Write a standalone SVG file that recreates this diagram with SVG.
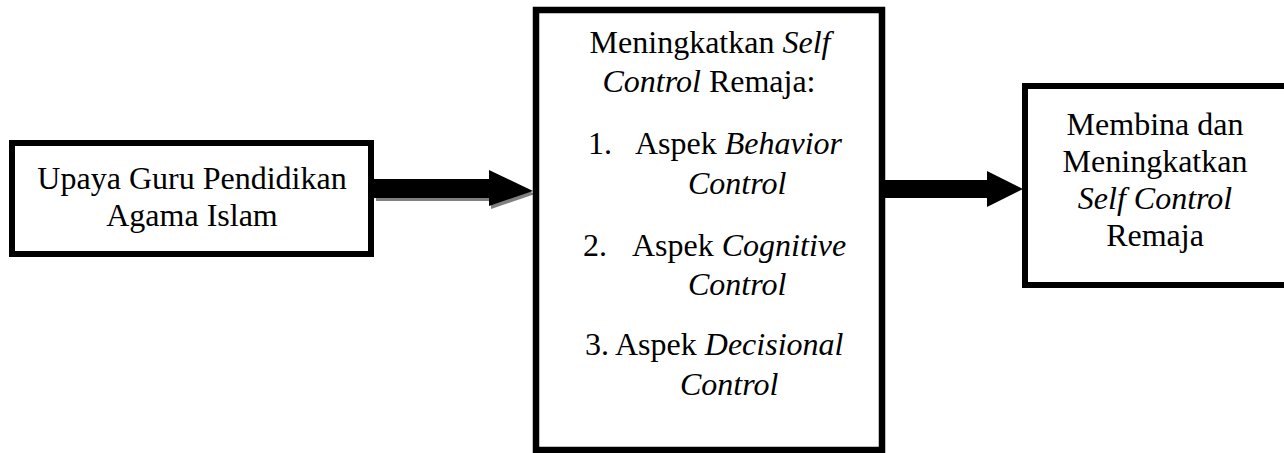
<svg xmlns="http://www.w3.org/2000/svg" width="1284" height="453" viewBox="0 0 1284 453">
<style>
.box{fill:#fff;stroke:#000;stroke-width:6}
.t{font-size:32px;fill:#000}
.c{text-anchor:middle}
.i{font-style:italic}
</style>
<rect width="1284" height="453" fill="#fff"/>
<g id="connectors">
  <polygon points="376,182 491,182 491,173 535,194 491,209 491,201 376,201" fill="#808080"/>
  <polygon points="374,179 489,179 489,170 533,191 489,206 489,198 374,198" fill="#000"/>
  <polygon points="885,180 987,180 987,171 1023,189 987,207 987,198 885,198" fill="#000"/>
</g>
<g font-family="'Liberation Serif', Tinos, 'Times New Roman', 'DejaVu Serif', serif">
<g id="node-upaya">
  <rect class="box" x="12" y="143" width="359" height="111"/>
  <text class="t c" x="192" y="189">Upaya Guru Pendidikan</text>
  <text class="t c" x="192" y="226">Agama Islam</text>
</g>
<g id="node-meningkatkan">
  <rect class="box" x="536" y="10" width="346" height="440" style="stroke-width:6.5"/>
  <text class="t c" x="710" y="53">Meningkatkan <tspan class="i">Self</tspan></text>
  <text class="t c" x="709" y="92"><tspan class="i">Control</tspan> Remaja:</text>
  <text class="t" x="588" y="154">1.</text>
  <text class="t" x="635" y="154">Aspek <tspan class="i">Behavior</tspan></text>
  <text class="t i" x="688" y="194">Control</text>
  <text class="t" x="583" y="256">2.</text>
  <text class="t" x="632" y="256">Aspek <tspan class="i">Cognitive</tspan></text>
  <text class="t i" x="688" y="295">Control</text>
  <text class="t" x="585" y="355">3.</text>
  <text class="t" x="615" y="355">Aspek <tspan class="i">Decisional</tspan></text>
  <text class="t i" x="680" y="395">Control</text>
</g>
<g id="node-membina">
  <rect class="box" x="1025" y="86" width="262" height="199"/>
  <text class="t c" x="1155" y="135">Membina dan</text>
  <text class="t c" x="1155" y="172">Meningkatkan</text>
  <text class="t c i" x="1155" y="209">Self Control</text>
  <text class="t c" x="1155" y="246">Remaja</text>
</g>
</g>
</svg>
